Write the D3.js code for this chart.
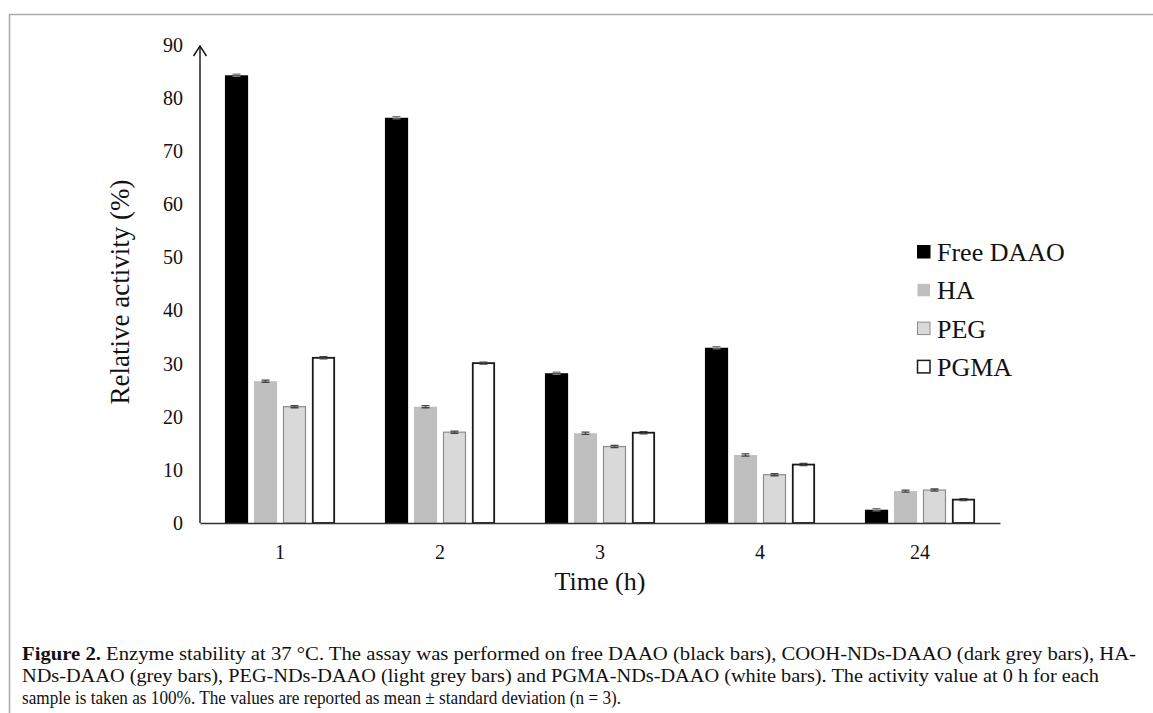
<!DOCTYPE html>
<html>
<head>
<meta charset="utf-8">
<script src="https://cdn.jsdelivr.net/npm/d3@7"></script>
<style>
  body { margin: 0; background: #fff; }
  svg { display: block; }
  text { font-family: "Liberation Serif", "Times New Roman", serif; fill: #111; }
</style>
</head>
<body>
<script>

// chart values
var times = ["1", "2", "3", "4", "24"];
var series = ["Free DAAO", "HA", "PEG", "PGMA"];
var freeDaao = [84.3, 76.3, 28.2, 33.0, 2.5];
var ha = [26.7, 21.9, 16.9, 12.8, 6.0];
var peg = [21.9, 17.1, 14.4, 9.1, 6.2];
var pgma = [31.1, 30.1, 17.0, 11.0, 4.4];
var sd = [0.2, 0.2, 0.2, 0.2, 0.2];
var yTicks = [0, 10, 20, 30, 40, 50, 60, 70, 80, 90];
var captionLines = [
    ["Figure 2.", " Enzyme stability at 37 °C. The assay was performed on free DAAO (black bars), COOH-NDs-DAAO (dark grey bars), HA-"],
    ["", "NDs-DAAO (grey bars), PEG-NDs-DAAO (light grey bars) and PGMA-NDs-DAAO (white bars). The activity value at 0 h for each"],
    ["", "sample is taken as 100%. The values are reported as mean ± standard deviation (n = 3)."]
];

var values = [freeDaao, ha, peg, pgma];

var fills = ["#000000", "#bfbfbf", "#d9d9d9", "#ffffff"]
    , strokes = ["#000000", "#bfbfbf", "#8c8c8c", "#1a1a1a"]
    , strokeW = [0, 0, 1.2, 1.8]
    ;

var width = 1153
    , height = 713
    , plotLeft = 200
    , plotRight = 1000
    , plotBase = 523
    , plotTop = 45
    ;

var svg = d3.select("body").append("svg")
    .attr("width", width)
    .attr("height", height);

// figure frame
svg.append("path")
    .attr("d", "M 9.5," + height + " L 9.5,14.5 L " + width + ",14.5")
    .attr("fill", "none")
    .attr("stroke", "#a8a8a8")
    .attr("stroke-width", 1.5);

var x0 = d3.scaleBand()
    .domain(times)
    .range([plotLeft, plotRight]);

var x1 = d3.scaleBand()
    .domain(series)
    .range([0, x0.bandwidth()])
    .paddingInner(0.2)
    .paddingOuter(0.86);

var y = d3.scaleLinear()
    .domain([0, 90])
    .range([plotBase, plotTop]);

var g = svg.append("g");

// bars
series.forEach(function(s, si) {
    var sg = g.append("g").attr("class", "series");

    sg.selectAll("rect")
        .data(values[si])
        .enter().append("rect")
        .attr("x", function(d, i) { return x0(times[i]) + x1(s) + strokeW[si] / 2; })
        .attr("y", function(d) { return y(d); })
        .attr("width", x1.bandwidth() - strokeW[si])
        .attr("height", function(d) { return plotBase - y(d); })
        .attr("fill", fills[si])
        .attr("stroke", strokeW[si] ? strokes[si] : "none")
        .attr("stroke-width", strokeW[si]);

    // tiny error caps
    sg.selectAll("path.err")
        .data(values[si])
        .enter().append("path")
        .attr("class", "err")
        .attr("d", function(d, i) {
            var cx = x0(times[i]) + x1(s) + x1.bandwidth() / 2;
            return "M" + (cx - 4) + "," + y(d + sd[i]) + "H" + (cx + 4)
                + "M" + (cx - 4) + "," + y(d - sd[i]) + "H" + (cx + 4)
                + "M" + cx + "," + y(d + sd[i]) + "V" + y(d - sd[i]);
        })
        .attr("stroke", si === 0 ? "#777" : "#444")
        .attr("stroke-width", 1.3)
        .attr("fill", "none");
});

// x axis
var xAxis = d3.axisBottom(x0)
    .tickSize(0)
    .tickPadding(22);

var gx = g.append("g")
    .attr("transform", "translate(0," + plotBase + ")")
    .call(xAxis);
gx.select(".domain").attr("stroke", "#333").attr("stroke-width", 1.5);
gx.selectAll("text")
    .style("font-family", "Liberation Serif")
    .style("font-size", "20px")
    .attr("fill", "#111");

// y axis
var yAxis = d3.axisLeft(y)
    .tickValues(yTicks)
    .tickSize(0)
    .tickPadding(17);

var gy = g.append("g")
    .attr("transform", "translate(" + plotLeft + ",0)")
    .call(yAxis);
gy.select(".domain").remove();
gy.selectAll("text")
    .style("font-family", "Liberation Serif")
    .style("font-size", "20px")
    .attr("fill", "#111");

g.append("line")
    .attr("x1", plotLeft).attr("x2", plotLeft)
    .attr("y1", plotBase).attr("y2", plotTop + 1)
    .attr("stroke", "#111")
    .attr("stroke-width", 1.4);

g.append("path")
    .attr("d", "M" + (plotLeft - 6.5) + "," + (plotTop + 11) + " L" + plotLeft + "," + (plotTop + 1) + " L" + (plotLeft + 6.5) + "," + (plotTop + 11))
    .attr("fill", "none")
    .attr("stroke", "#111")
    .attr("stroke-width", 1.4);

// axis titles
g.append("text")
    .attr("x", (plotLeft + plotRight) / 2)
    .attr("y", 590)
    .attr("text-anchor", "middle")
    .style("font-size", "26px")
    .text("Time (h)");

g.append("text")
    .attr("transform", "translate(129,292) rotate(-90)")
    .attr("text-anchor", "middle")
    .style("font-size", "27px")
    .text("Relative activity (%)");

// legend
var legend = g.append("g")
    .attr("transform", "translate(917,252)");

var item = legend.selectAll("g")
    .data(series)
    .enter().append("g")
    .attr("transform", function(d, i) { return "translate(0," + (i * 38.3) + ")"; });

item.append("rect")
    .attr("x", 0.5)
    .attr("y", -6.5)
    .attr("width", 12.5)
    .attr("height", 12.5)
    .attr("fill", function(d, i) { return fills[i]; })
    .attr("stroke", function(d, i) { return i === 1 ? "none" : strokes[i]; })
    .attr("stroke-width", function(d, i) { return i === 3 ? 1.5 : 1; });

item.append("text")
    .attr("x", 20)
    .attr("y", 9)
    .style("font-size", "26px")
    .text(function(d) { return d; });

// caption
var capWidths = [1114, 1077, 599];

var cap = svg.append("g")
    .attr("transform", "translate(22,0)");

cap.selectAll("text")
    .data(captionLines)
    .enter().append("text")
    .attr("x", 0)
    .attr("y", function(d, i) { return 660 + i * 22; })
    .attr("textLength", function(d, i) { return capWidths[i]; })
    .attr("lengthAdjust", "spacingAndGlyphs")
    .style("font-size", "18px")
    .each(function(d) {
        var t = d3.select(this);
        if (d[0]) t.append("tspan").style("font-weight", "bold").text(d[0]);
        t.append("tspan").text(d[1]);
    });

</script>
</body>
</html>
